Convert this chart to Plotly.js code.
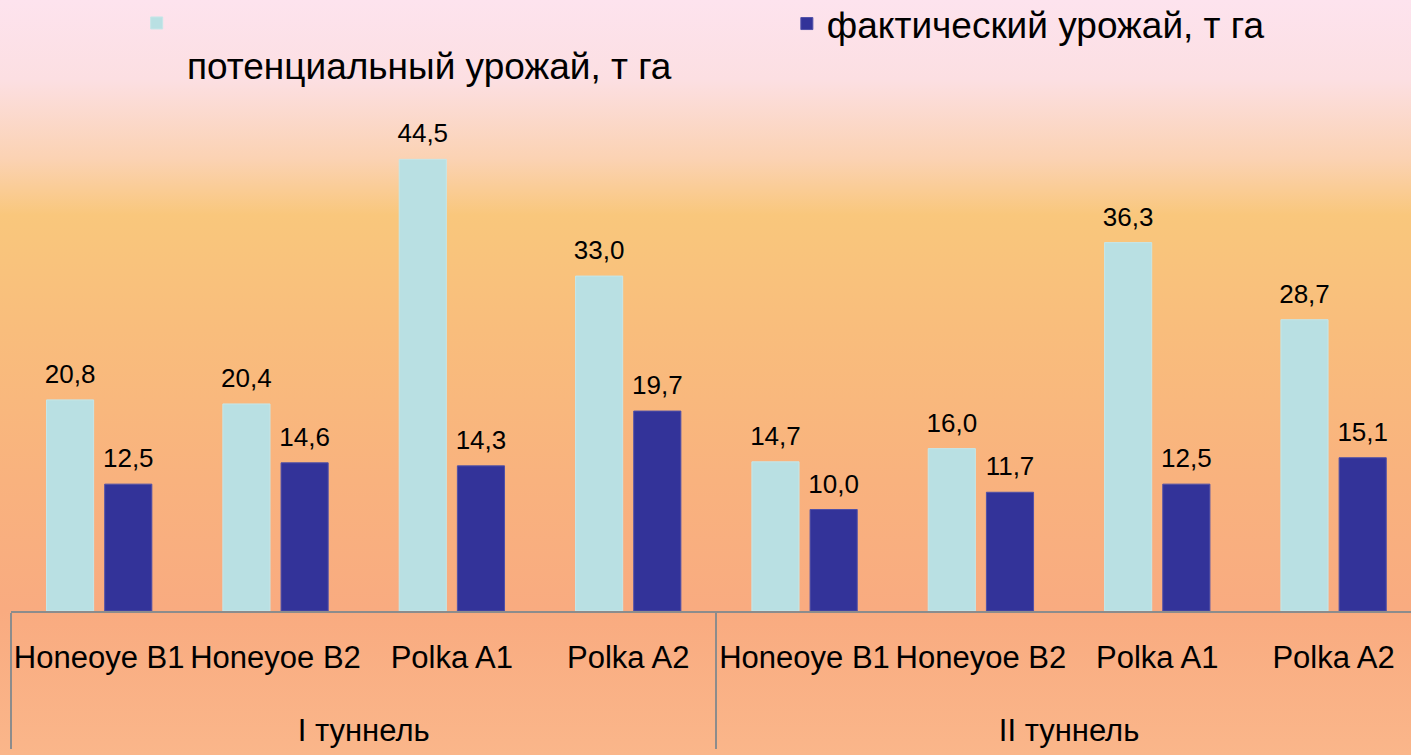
<!DOCTYPE html>
<html>
<head>
<meta charset="utf-8">
<script src="https://cdn.plot.ly/plotly-3.0.1.min.js"></script>
<style>
  html, body { margin: 0; padding: 0; }
  body {
    width: 1411px; height: 755px; overflow: hidden;
    background: linear-gradient(to bottom,
      #FDE3EE 0px, #FCDFE2 80px, #FBD2B2 160px, #F9C77C 215px,
      #F9BD7C 330px, #F9B27E 480px, #F9AB80 610px, #FAB68A 755px);
  }
  #chart { width: 1411px; height: 755px; }
</style>
</head>
<body>
<div id="chart"></div>
<script>
// ---- data ----
const groups = ["I туннель", "I туннель", "I туннель", "I туннель",
                "II туннель", "II туннель", "II туннель", "II туннель"];
const varieties = ["Honeoye B1", "Honeyoe B2", "Polka A1", "Polka A2",
                   "Honeoye B1", "Honeyoe B2", "Polka A1", "Polka A2"];
const potentialYield = [20.8, 20.4, 44.5, 33.0, 14.7, 16.0, 36.3, 28.7];
const actualYield    = [12.5, 14.6, 14.3, 19.7, 10.0, 11.7, 12.5, 15.1];
const seriesNames = ["потенциальный урожай, т га", "фактический урожай, т га"];

// ---- chart ----
const FONT = "Liberation Sans, Arial, Helvetica, sans-serif";
const W = 1411, ML = 11.35, PW = W - ML, PH = 611;

// category labels get an invisible second line so the group row sits lower (table-style axis)
const varietyLabels = varieties.map(v => v + "<br><span style=\"font-size:80px\">&nbsp;</span>");
// invisible tall spacers around value labels lift them a little higher above the bars
const PADSPAN = "<span style=\"font-size:68px\">&nbsp;</span>";
const valueTemplate = PADSPAN + "%{y:.1f}" + PADSPAN;

const traces = [
  {
    type: "bar",
    x: [groups, varietyLabels],
    y: potentialYield,
    name: "&nbsp;<br><span style=\"font-size:37px\">&nbsp;" + seriesNames[0] + "</span>",
    legend: "legend",
    marker: { color: "#B9E0E3", line: { color: "#C6E6E8", width: 1 } },
    texttemplate: valueTemplate,
    textposition: "outside",
    constraintext: "none",
    cliponaxis: false,
    textfont: { family: FONT, size: 26, color: "#000000" },
    hoverinfo: "skip"
  },
  {
    type: "bar",
    x: [groups, varietyLabels],
    y: actualYield,
    name: seriesNames[1],
    legend: "legend2",
    marker: { color: "#333399", line: { color: "#5050A8", width: 1 } },
    texttemplate: valueTemplate,
    textposition: "outside",
    constraintext: "none",
    cliponaxis: false,
    textfont: { family: FONT, size: 26, color: "#000000" },
    hoverinfo: "skip"
  }
];

const legendCommon = {
  orientation: "h",
  bgcolor: "rgba(0,0,0,0)",
  borderwidth: 0,
  valign: "top",
  xref: "paper",
  yref: "paper",
  yanchor: "top",
  xanchor: "left"
};

const layout = {
  width: W,
  height: 755,
  paper_bgcolor: "rgba(0,0,0,0)",
  plot_bgcolor: "rgba(0,0,0,0)",
  separators: ", ",
  font: { family: FONT, color: "#000000" },
  margin: { l: ML, r: 0, t: 0, b: 144, autoexpand: false },
  barmode: "group",
  bargap: 0.34,
  bargroupgap: 0.19,
  showlegend: true,
  legend: Object.assign({}, legendCommon, {
    x: (137 - ML) / PW, y: 1 + 5 / PH,
    font: { family: FONT, size: 33, color: "#000000" }
  }),
  legend2: Object.assign({}, legendCommon, {
    x: (787 - ML) / PW, y: 1 + 7 / PH,
    font: { family: FONT, size: 37, color: "#000000" }
  }),
  xaxis: {
    type: "multicategory",
    range: [-0.5, 7.439],
    showline: true,
    linecolor: "#8C8C8C",
    linewidth: 2,
    ticks: "",
    tickangle: 0,
    ticklabelstandoff: 18,
    tickfont: { family: FONT, size: 31, color: "#000000" },
    showdividers: true,
    dividercolor: "#8C8C8C",
    dividerwidth: 2,
    showgrid: false,
    zeroline: false,
    fixedrange: true
  },
  yaxis: {
    range: [0, 60.2],
    visible: false,
    showgrid: false,
    zeroline: false,
    fixedrange: true
  }
};

Plotly.newPlot("chart", traces, layout, { displayModeBar: false, staticPlot: true });
</script>
</body>
</html>
